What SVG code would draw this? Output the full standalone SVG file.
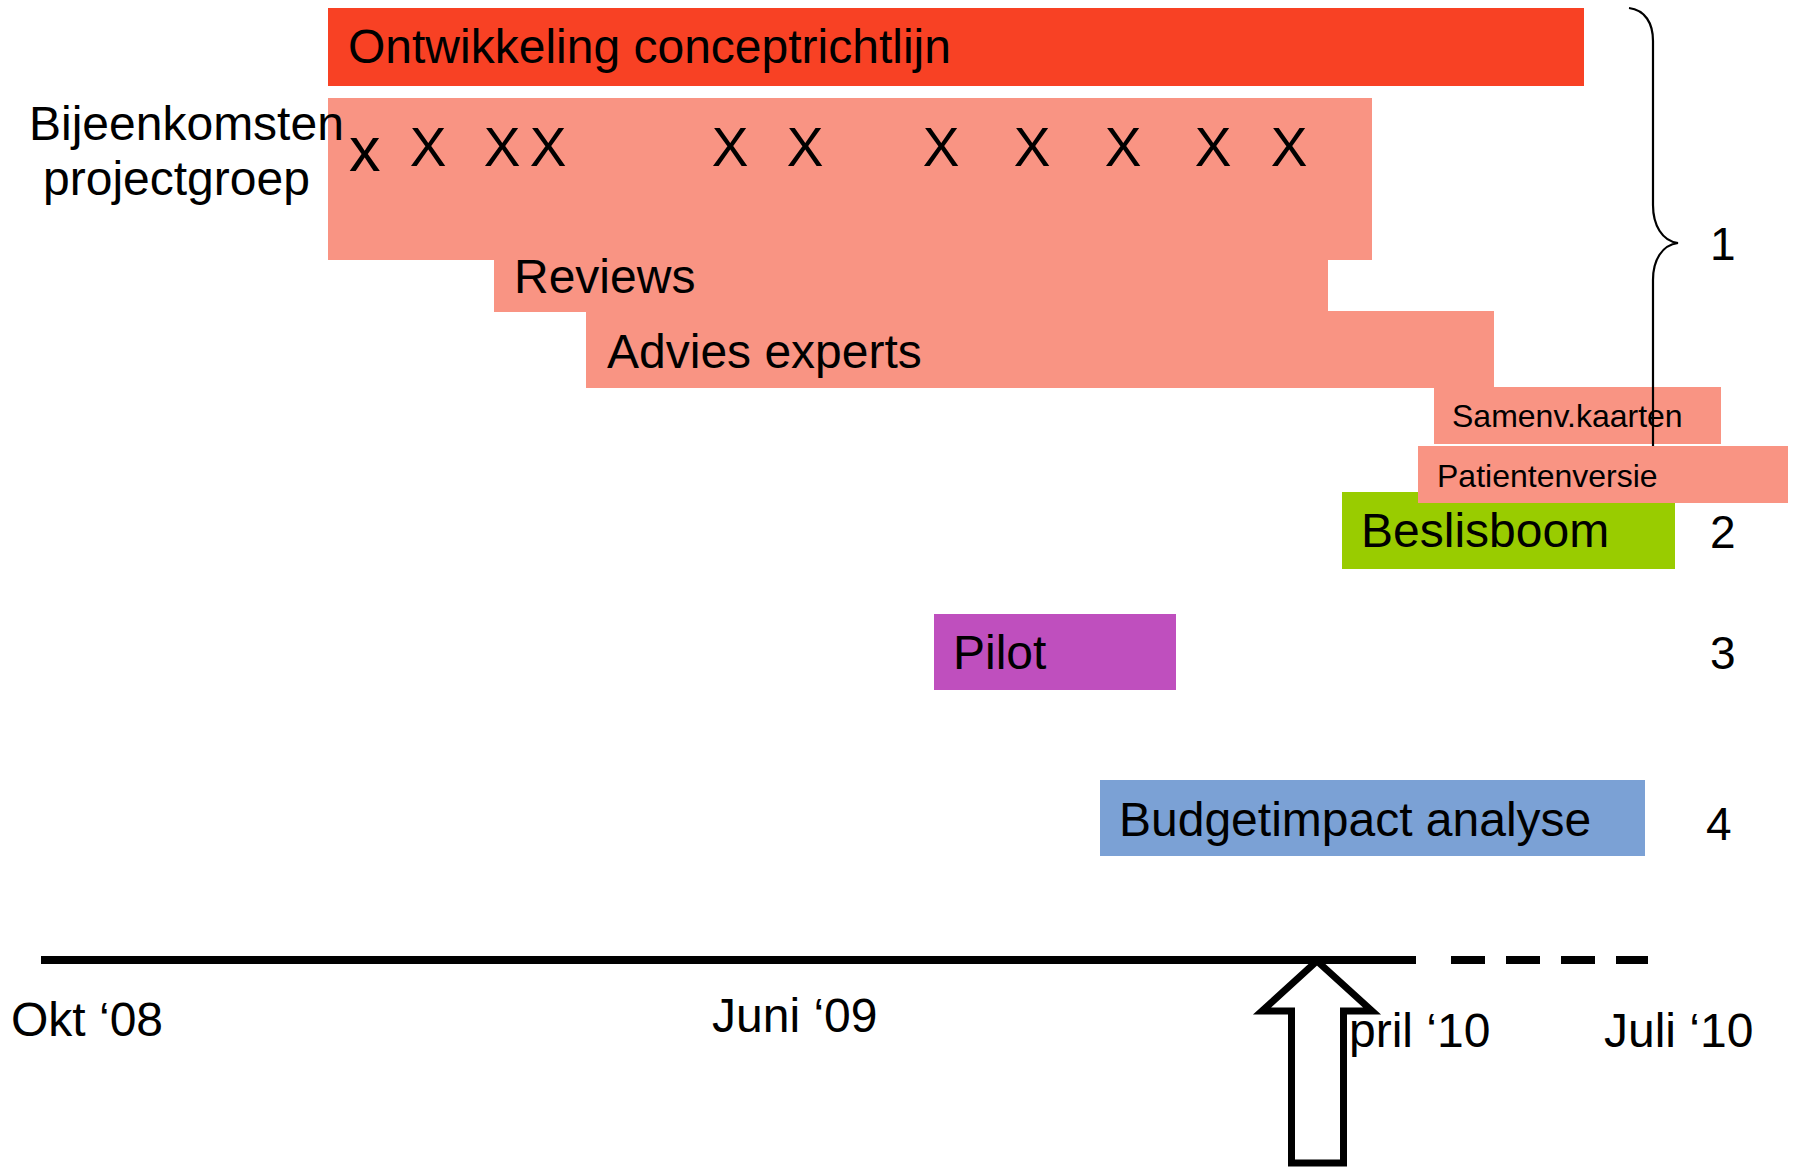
<svg xmlns="http://www.w3.org/2000/svg" width="1794" height="1168" viewBox="0 0 1794 1168">
<style>
text{font-family:"Liberation Sans",Arial,Helvetica,sans-serif;fill:#000}
.t48{font-size:48px}
.t32{font-size:32px}
.num{font-size:46px}
.red{fill:#F84124}
.pink{fill:#F99483}
.green{fill:#99CC00}
.purple{fill:#BF4FBE}
.blue{fill:#7BA1D5}
.xmark{font-size:55px}
</style>
<rect width="1794" height="1168" fill="#fff"/>

<g id="ontwikkeling">
<rect class="red" x="328" y="8" width="1256" height="78"/>
<text class="t48" x="348" y="63">Ontwikkeling conceptrichtlijn</text>
</g>

<g id="projectgroep">
<rect class="pink" x="328" y="98" width="1044" height="162"/>
<text class="t48" x="29" y="140">Bijeenkomsten</text>
<text class="t48" x="43" y="195">projectgroep</text>
<text style="font-size:63px" x="349" y="171">x</text>
<text class="xmark" text-anchor="middle" x="428" y="166">X</text>
<text class="xmark" text-anchor="middle" x="502" y="166">X</text>
<text class="xmark" text-anchor="middle" x="548" y="166">X</text>
<text class="xmark" text-anchor="middle" x="730" y="166">X</text>
<text class="xmark" text-anchor="middle" x="805" y="166">X</text>
<text class="xmark" text-anchor="middle" x="941" y="166">X</text>
<text class="xmark" text-anchor="middle" x="1032" y="166">X</text>
<text class="xmark" text-anchor="middle" x="1123" y="166">X</text>
<text class="xmark" text-anchor="middle" x="1213" y="166">X</text>
<text class="xmark" text-anchor="middle" x="1289" y="166">X</text>
</g>

<g id="reviews">
<rect class="pink" x="494" y="240" width="834" height="72"/>
<text class="t48" x="514" y="293">Reviews</text>
</g>

<g id="advies">
<rect class="pink" x="586" y="311" width="908" height="77"/>
<text class="t48" x="607" y="368">Advies experts</text>
</g>

<g id="samenv">
<rect class="pink" x="1434" y="387" width="287" height="57"/>
<text class="t32" x="1452" y="427">Samenv.kaarten</text>
</g>

<g id="connectors">
<path id="brace" d="M1629,8 C1645,10 1653,23 1653,41 L1653,205 C1653,225 1662,241 1678,243 C1662,245 1653,260 1653,280 L1653,447" fill="none" stroke="#000" stroke-width="2.2"/>
</g>

<g id="beslisboom">
<rect class="green" x="1342" y="492" width="333" height="77"/>
<text class="t48" x="1361" y="547">Beslisboom</text>
</g>

<g id="patientenversie">
<rect class="pink" x="1418" y="446" width="370" height="57"/>
<text class="t32" x="1437" y="487">Patientenversie</text>
</g>

<g id="pilot">
<rect class="purple" x="934" y="614" width="242" height="76"/>
<text class="t48" x="953" y="669">Pilot</text>
</g>

<g id="budget">
<rect class="blue" x="1100" y="780" width="545" height="76"/>
<text class="t48" x="1119" y="836">Budgetimpact analyse</text>
</g>

<g id="numbers">
<text class="num" x="1710" y="260">1</text>
<text class="num" x="1710" y="548">2</text>
<text class="num" x="1710" y="669">3</text>
<text class="num" x="1706" y="840">4</text>
</g>

<g id="timeline">
<line x1="41" y1="960" x2="1416" y2="960" stroke="#000" stroke-width="8"/>
<line x1="1451" y1="960" x2="1648" y2="960" stroke="#000" stroke-width="8" stroke-dasharray="34 21"/>
<text class="t48" x="11" y="1036">Okt ‘08</text>
<text class="t48" x="712" y="1032">Juni ‘09</text>
<text class="t48" x="1349" y="1047">pril ‘10</text>
<text class="t48" x="1604" y="1047">Juli ‘10</text>
</g>

<g id="arrow">
<path d="M1317,961 L1372,1011 L1343.5,1011 L1343.5,1163 L1291.5,1163 L1291.5,1011 L1262,1011 Z" fill="#fff" stroke="#000" stroke-width="7"/>
</g>
</svg>
